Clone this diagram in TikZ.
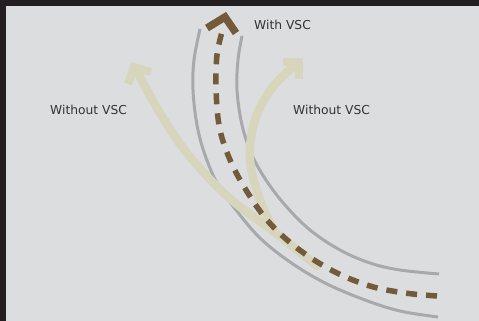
\documentclass[tikz,border=0pt]{standalone}
\usepackage{fontspec}
\setmainfont{DejaVu Sans}
\definecolor{bgc}{HTML}{DCDDDF}
\definecolor{darkc}{HTML}{231F20}
\definecolor{roadc}{HTML}{A7A9AC}
\definecolor{brownc}{HTML}{735A3A}
\definecolor{beigec}{HTML}{D8D5BD}
\definecolor{txtc}{HTML}{333333}
\tikzset{
  roadedge/.style={draw=roadc, line width=3pt},
  pathbeige/.style={draw=beigec, line width=8.5pt},
  headbeige/.style={draw=beigec, line width=8pt, line join=miter, line cap=butt},
  pathbrown/.style={draw=brownc, line width=5.5pt, dash pattern=on 11pt off 9pt},
  headbrown/.style={draw=brownc, line width=7.5pt, line join=miter, line cap=butt},
  lbl/.style={text=txtc, font=\fontsize{12.3pt}{13pt}\selectfont, inner sep=0pt},
}
\begin{document}
\begin{tikzpicture}[x=1pt,y=-1pt]
\useasboundingbox (0,0) rectangle (479,321);
\fill[darkc] (0,0) rectangle (479,321);
\fill[bgc] (6,6) rectangle (479,321);
% road edges
\draw[roadedge] plot[smooth, tension=0.6] coordinates {(200,29) (194,60) (193,90) (197,125) (205,155) (218,185) (236,210) (260,238) (290,262) (325,283) (365,300) (400,311) (438,317)};
\draw[roadedge] plot[smooth, tension=0.6] coordinates {(242,36) (238,60) (237,90) (242,125) (252,155) (266,180) (285,205) (310,230) (340,250) (370,263) (400,270) (439,274)};
% beige paths without VSC
\draw[pathbeige, line cap=round] plot[smooth, tension=0.6] coordinates {(317,266) (277,234) (227,196) (187,153) (160,113) (139,75)};
\draw[headbeige] (128,84) -- (134,67) -- (151,72);
\draw[pathbeige] plot[smooth, tension=0.6] coordinates {(275,232) (260,200) (250,160) (255,120) (272,88) (294,66)};
\draw[headbeige] (283,62) -- (299,62) -- (299,79);
% brown dashed path with VSC
\draw[pathbrown] plot[smooth, tension=0.6] coordinates {(437,296) (405,293) (370,286) (333,271) (297,248) (267,220) (243,185) (228,155) (219,125) (216,87) (217,55) (222,32)};
\draw[headbrown] (207,28) -- (225,17) -- (236,33);
% labels
\node[lbl, anchor=base west] (with) at (254,30) {With VSC};
\node[lbl, anchor=base west] (wol) at (50,114.5) {Without VSC};
\node[lbl, anchor=base west] (wor) at (293,114.5) {Without VSC};
\end{tikzpicture}
\end{document}
